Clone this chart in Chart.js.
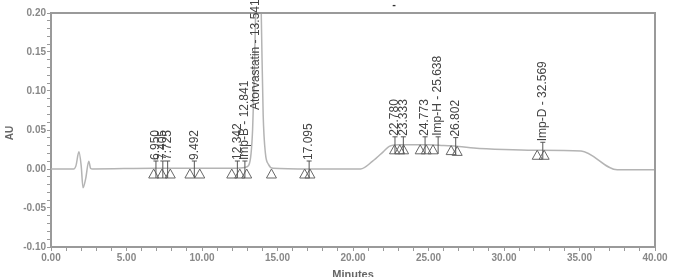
<!DOCTYPE html>
<html>
<head>
<meta charset="utf-8">
<script src="https://cdn.jsdelivr.net/npm/chart.js@4/dist/chart.umd.min.js"></script>
<style>
  html, body { margin: 0; padding: 0; background: #fff; }
  canvas { display: block; }
</style>
</head>
<body>
<canvas id="chrom" width="673" height="277"></canvas>
<script>
// chromatogram trace (minutes, AU)
const traceTimes = [0, 1.5, 1.65, 1.85, 2.0, 2.12, 2.3, 2.5, 2.62, 2.75, 6.9, 7.4, 7.75, 9.5, 12.3, 12.85, 13.1, 13.25, 13.35, 13.45, 13.55, 13.65, 13.75, 13.85, 13.95, 14.05, 14.2, 14.4, 14.7, 17.1, 20.5, 21.3, 22.0, 22.4, 23.0, 24.0, 25.0, 26.0, 27.0, 28.0, 30.0, 32.0, 35.1, 37.5, 40.0];
const traceAU    = [0, 0, 0.004, 0.022, 0.004, -0.024, -0.012, 0.010, 0.001, 0, 0.001, 0.001, 0.001, 0.001, 0.001, 0.002, 0.005, 0.02, 0.05, 0.11, 0.2, 0.3, 0.33, 0.28, 0.17, 0.07, 0.02, 0.006, 0.001, 0, 0, 0.01, 0.022, 0.029, 0.031, 0.031, 0.031, 0.030, 0.029, 0.027, 0.025, 0.024, 0.023, -0.001, -0.001];

// peak labels
const peakNames  = ['6.950', '7.405', '7.725', '9.492', '12.342', 'Imp-B - 12.841', 'Atorvastatin - 13.541', '17.095', '22.780', '23.333', '24.773', 'Imp-H - 25.638', '26.802', 'Imp-D - 32.569'];
const peakTimes  = [6.950, 7.405, 7.725, 9.492, 12.342, 12.841, 13.541, 17.095, 22.780, 23.333, 24.773, 25.638, 26.802, 32.569];
const peakLevels = [0, 0, 0, 0, 0, 0, 0.064, 0, 0.031, 0.031, 0.031, 0.031, 0.030, 0.024];

// peak start / end markers
const markTimes  = [6.8, 7.35, 7.9, 9.2, 9.85, 11.97, 12.5, 12.96, 14.6, 16.8, 17.15, 22.75, 23.1, 23.35, 24.45, 24.85, 25.3, 26.5, 26.9, 32.2, 32.66];
const markLevels = [0, 0, 0, 0, 0, 0, 0, 0, 0, 0, 0, 0.031, 0.031, 0.031, 0.031, 0.031, 0.031, 0.030, 0.029, 0.024, 0.024];

const yLabel = 'AU';
const xLabel = 'Minutes';

const axisColor = '#9a9a9a';
const tickFont = { family: 'Liberation Sans', size: 10, weight: 'bold' };

const peakMarks = {
    id: 'peakMarks',
    afterDatasetsDraw(chart) {
        const { ctx, chartArea: a, scales: { x, y } } = chart;
        ctx.save();

        // frame on top and right
        ctx.strokeStyle = axisColor;
        ctx.lineWidth = 2;
        ctx.beginPath();
        ctx.moveTo(a.left, a.top);
        ctx.lineTo(a.right, a.top);
        ctx.lineTo(a.right, a.bottom);
        ctx.stroke();

        // open triangles at peak start / end
        ctx.strokeStyle = '#666';
        ctx.lineWidth = 1;
        markTimes.forEach((t, i) => {
            const px = x.getPixelForValue(t);
            const py = y.getPixelForValue(markLevels[i]);
            ctx.beginPath();
            ctx.moveTo(px, py);
            ctx.lineTo(px - 5, py + 9);
            ctx.lineTo(px + 5, py + 9);
            ctx.closePath();
            ctx.stroke();
        });

        // labels
        ctx.fillStyle = '#444';
        ctx.font = '12px "Liberation Sans"';
        ctx.textAlign = 'left';
        ctx.textBaseline = 'middle';
        peakTimes.forEach((t, i) => {
            const px = x.getPixelForValue(t);
            const py = y.getPixelForValue(peakLevels[i]);
            if (peakLevels[i] < 0.05) {
                ctx.strokeStyle = '#555';
                ctx.beginPath();
                ctx.moveTo(px, py + 9);
                ctx.lineTo(px, py - 8);
                ctx.moveTo(px - 2.5, py - 8);
                ctx.lineTo(px + 2.5, py - 8);
                ctx.stroke();
            }
            ctx.save();
            ctx.translate(px, py - 9);
            ctx.rotate(-Math.PI / 2);
            ctx.fillText(peakNames[i], 0, 0);
            ctx.restore();
        });

        // axis titles and the stray title mark
        ctx.fillStyle = '#666';
        ctx.font = 'bold 10px "Liberation Sans"';
        ctx.textAlign = 'center';
        ctx.save();
        ctx.translate(10, 133);
        ctx.rotate(-Math.PI / 2);
        ctx.fillText(yLabel, 0, 0);
        ctx.restore();
        ctx.font = 'bold 11px "Liberation Sans"';
        ctx.fillText(xLabel, (a.left + a.right) / 2, 275);
        ctx.fillStyle = '#333';
        ctx.fillText('-', 394, 5);

        ctx.restore();
    }
};

new Chart(document.getElementById('chrom'), {
    type: 'line',
    data: {
        datasets: [{
            data: traceTimes.map((t, i) => ({ x: t, y: traceAU[i] })),
            borderColor: '#b4b4b4',
            borderWidth: 1.5,
            pointRadius: 0,
            cubicInterpolationMode: 'monotone'
        }]
    },
    options: {
        responsive: false,
        animation: false,
        devicePixelRatio: 1,
        layout: { padding: { top: 13, right: 18, left: 0, bottom: 0 } },
        plugins: { legend: { display: false }, tooltip: { enabled: false } },
        scales: {
            x: {
                type: 'linear',
                min: 0,
                max: 40,
                afterFit: s => { s.height = 30; },
                ticks: {
                    stepSize: 1,
                    autoSkip: false,
                    maxRotation: 0,
                    padding: 1,
                    color: '#888',
                    font: tickFont,
                    callback: v => (Math.round(v) % 5 === 0 ? v.toFixed(2) : '')
                },
                grid: { drawOnChartArea: false, tickLength: 4, color: axisColor },
                border: { color: axisColor, width: 2 }
            },
            y: {
                min: -0.1,
                max: 0.2,
                afterFit: s => { s.width = 51; },
                ticks: {
                    stepSize: 0.01,
                    autoSkip: false,
                    padding: 1,
                    color: '#888',
                    font: tickFont,
                    callback: v => {
                        const k = Math.round(v * 100);
                        if (k % 5 !== 0) return '';
                        return (k / 100).toFixed(2).replace('-0.00', '0.00');
                    }
                },
                grid: { drawOnChartArea: false, tickLength: 4, color: axisColor },
                border: { color: axisColor, width: 2 }
            }
        }
    },
    plugins: [peakMarks]
});
</script>
</body>
</html>
